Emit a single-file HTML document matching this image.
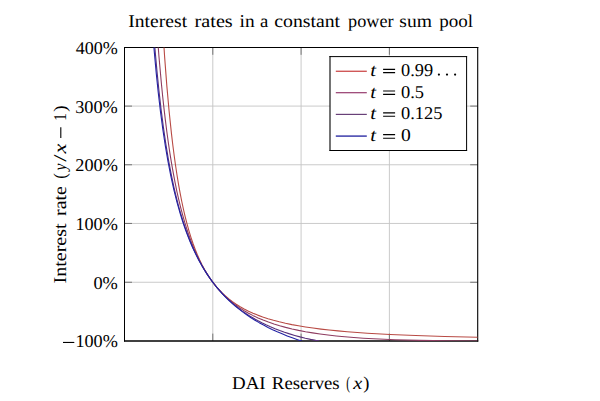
<!DOCTYPE html>
<html><head><meta charset="utf-8">
<style>
html,body{margin:0;padding:0;background:#fff;}
body{width:600px;height:401px;overflow:hidden;}
svg{display:block;}
text{font-family:"Liberation Serif",serif;font-size:18px;fill:#000;text-rendering:geometricPrecision;}
.it{font-style:italic;}
</style></head>
<body>
<svg width="600" height="401" viewBox="0 0 600 401">
<rect x="0" y="0" width="600" height="401" fill="#fff"/>
<g stroke="#c4c4c4" stroke-width="0.9" fill="none">
<path d="M212.8,47.5V340.9 M301.1,47.5V340.9 M389.4,47.5V340.9"/>
<path d="M124.5,106.1H477.7 M124.5,164.75H477.7 M124.5,223.45H477.7 M124.5,282.25H477.7"/>
</g>
<g stroke="#6a6a6a" stroke-width="0.9" fill="none">
<path d="M212.8,47.5v7.3 M301.1,47.5v7.3 M389.4,47.5v7.3 M212.8,340.9v-7.3 M301.1,340.9v-7.3 M389.4,340.9v-7.3"/>
<path d="M124.5,106.1h7.5 M124.5,164.75h7.5 M124.5,223.45h7.5 M124.5,282.25h7.5 M477.7,106.1h-7.5 M477.7,164.75h-7.5 M477.7,223.45h-7.5 M477.7,282.25h-7.5"/>
</g>
<g fill="none" stroke="#000"><path d="M124,47.5H478.3" stroke-width="1"/><path d="M124.5,47V341.5" stroke-width="1"/><path d="M477.7,47V341.5" stroke-width="1.1"/><path d="M124,341H478.3" stroke-width="1.3"/></g>
<svg x="124.5" y="47.5" width="353.2" height="293.4" viewBox="124.5 47.5 353.2 293.4" overflow="hidden">
<g fill="none" stroke-width="1.1" stroke-linejoin="round">
<path d="M162.69,27.45 164.68,57.66 166.88,86.38 169.09,110.94 171.52,134.07 172.84,145.24 174.17,155.53 175.49,165.03 177.04,175.22 178.58,184.55 180.13,193.12 181.67,200.99 183.44,209.25 185.21,216.80 186.97,223.71 188.96,230.83 190.95,237.31 192.93,243.24 195.14,249.25 197.35,254.72 199.56,259.71 201.98,264.72 204.41,269.28 207.06,273.81 209.93,278.24 212.80,282.25 215.67,285.89 218.76,289.44 222.07,292.87 225.38,295.98 228.91,298.97 232.45,301.67 236.20,304.26 240.17,306.74 244.15,308.97 248.56,311.21 252.98,313.22 257.61,315.11 262.69,316.98 267.99,318.71 273.51,320.33 279.25,321.83 285.43,323.27 291.83,324.60 298.45,325.82 305.51,326.97 313.02,328.06 320.97,329.08 329.14,330.01 337.97,330.90 347.24,331.72 367.32,333.18 390.06,334.45 415.67,335.54 444.59,336.47 477.70,337.27" stroke="#b84a44"/>
<path d="M156.73,27.69 158.94,56.26 161.37,83.31 162.69,96.45 164.01,108.61 165.34,119.89 166.88,132.04 168.43,143.23 169.97,153.56 171.52,163.12 173.29,173.20 175.05,182.47 176.82,191.03 178.58,198.95 180.57,207.17 182.56,214.73 184.76,222.46 186.97,229.54 189.18,236.06 191.61,242.65 194.04,248.69 196.46,254.25 199.11,259.82 201.76,264.92 204.63,270.00 207.50,274.64 210.59,279.22 213.90,283.69 217.22,287.77 220.75,291.73 224.28,295.34 228.03,298.83 231.78,302.01 235.76,305.07 239.73,307.86 244.15,310.67 248.56,313.21 253.20,315.63 258.05,317.92 263.13,320.07 268.43,322.10 273.95,323.99 279.69,325.75 285.65,327.38 292.05,328.95 298.67,330.38 305.51,331.69 312.58,332.88 320.08,333.99 328.03,335.02 336.20,335.94 344.81,336.77 353.86,337.52 363.35,338.19 373.51,338.79 395.14,339.74 419.42,340.41 446.79,340.80 477.70,340.93" stroke="#8e3c60"/>
<path d="M153.42,29.20 155.18,51.28 156.95,70.92 158.94,90.58 161.14,109.88 163.35,126.94 165.78,143.57 168.43,159.57 171.08,173.70 173.95,187.27 177.04,200.18 178.58,206.07 180.35,212.38 183.66,223.18 185.43,228.44 187.19,233.40 189.18,238.64 191.17,243.56 193.15,248.18 195.14,252.53 197.35,257.08 199.56,261.34 201.76,265.35 204.19,269.49 206.62,273.38 209.05,277.03 211.70,280.76 214.35,284.27 216.99,287.56 219.86,290.90 222.73,294.04 225.82,297.20 228.91,300.16 232.01,302.94 235.32,305.72 238.85,308.50 242.38,311.10 245.91,313.53 249.67,315.94 253.64,318.32 257.61,320.54 261.81,322.72 266.00,324.75 270.42,326.74 275.05,328.68 279.69,330.47 284.54,332.21 289.62,333.88 294.70,335.41 300.00,336.88 305.29,338.20 310.59,339.38 315.67,340.36 319.42,340.93" stroke="#58307a"/>
<path d="M152.54,29.97 154.30,51.88 156.29,73.61 158.27,92.79 160.48,111.61 162.91,129.82 165.34,145.86 167.99,161.32 170.86,176.07 173.95,190.04 177.04,202.37 180.35,214.06 182.12,219.75 184.10,225.74 185.87,230.75 187.86,236.04 189.84,241.02 192.05,246.20 194.26,251.05 196.46,255.61 198.67,259.90 201.10,264.32 203.53,268.48 205.96,272.39 208.61,276.40 211.25,280.16 214.12,283.98 216.99,287.57 219.86,290.94 222.95,294.35 226.04,297.56 229.36,300.78 232.67,303.81 236.20,306.84 239.73,309.68 243.26,312.35 247.02,315.03 250.99,317.68 254.96,320.18 259.16,322.65 263.57,325.10 267.99,327.39 272.62,329.65 277.26,331.77 282.12,333.86 287.19,335.91 292.27,337.84 297.57,339.73 303.09,341.58 308.83,343.39 314.79,345.15 320.75,346.80 333.55,350.04" stroke="#2222a4"/>

</g>
</svg>
<rect x="330" y="56.6" width="136.6" height="93.9" fill="#fff"/>
<g fill="none" stroke="#000"><path d="M329.5,56.6H467.1" stroke-width="1"/><path d="M329.5,150.5H467.1" stroke-width="1"/><path d="M330,56.1V151" stroke-width="1.1"/><path d="M466.6,56.1V151" stroke-width="1"/></g>
<g>
<path d="M335.8,71.25H366.8" stroke="#c83c3c" stroke-width="1.2"/>
<path d="M335.8,92.7H366.8" stroke="#963c6e" stroke-width="1.2"/>
<path d="M335.8,114.4H366.8" stroke="#684078" stroke-width="1.2"/>
<path d="M335.8,136.1H366.8" stroke="#3c3caa" stroke-width="1.5"/>
</g>
<g stroke="#000" stroke-width="1.15">
<path d="M383.1,69.4H395.1M383.1,72.6H395.1"/>
<path d="M383.1,91.0H395.1M383.1,94.4H395.1"/>
<path d="M383.1,112.8H395.1M383.1,116.2H395.1"/>
<path d="M383.1,134.6H395.1M383.1,138.2H395.1"/>
</g>
<text x="370.28" y="75.80" class="it" textLength="5.80" lengthAdjust="spacingAndGlyphs">t</text>
<text x="401.00" y="75.80" textLength="32.05" lengthAdjust="spacingAndGlyphs">0.99</text>
<text x="370.28" y="97.50" class="it" textLength="5.80" lengthAdjust="spacingAndGlyphs">t</text>
<text x="401.00" y="97.50" textLength="23.02" lengthAdjust="spacingAndGlyphs">0.5</text>
<text x="370.28" y="119.30" class="it" textLength="5.80" lengthAdjust="spacingAndGlyphs">t</text>
<text x="401.00" y="119.30" textLength="41.42" lengthAdjust="spacingAndGlyphs">0.125</text>
<text x="370.28" y="141.00" class="it" textLength="5.80" lengthAdjust="spacingAndGlyphs">t</text>
<text x="400.95" y="141.00" textLength="9.79" lengthAdjust="spacingAndGlyphs">0</text>
<g fill="#000"><circle cx="438.9" cy="74.6" r="1.1"/><circle cx="447" cy="74.6" r="1.1"/><circle cx="455.1" cy="74.6" r="1.1"/></g>
<text x="75.75" y="54.20" textLength="42.07" lengthAdjust="spacingAndGlyphs">400%</text>
<text x="75.23" y="112.70" textLength="42.60" lengthAdjust="spacingAndGlyphs">300%</text>
<text x="75.30" y="171.30" textLength="42.52" lengthAdjust="spacingAndGlyphs">200%</text>
<text x="75.40" y="230.10" textLength="42.42" lengthAdjust="spacingAndGlyphs">100%</text>
<text x="93.40" y="289.00" textLength="24.42" lengthAdjust="spacingAndGlyphs">0%</text>
<path d="M63,342.45H74.3" stroke="#000" stroke-width="1.1"/>
<text x="75.40" y="347.20" textLength="42.42" lengthAdjust="spacingAndGlyphs">100%</text>
<text x="128.29" y="27.00" textLength="58.82" lengthAdjust="spacingAndGlyphs">Interest</text>
<text x="194.60" y="27.00" textLength="38.13" lengthAdjust="spacingAndGlyphs">rates</text>
<text x="239.59" y="27.00" textLength="15.10" lengthAdjust="spacingAndGlyphs">in</text>
<text x="259.94" y="27.00" textLength="8.31" lengthAdjust="spacingAndGlyphs">a</text>
<text x="274.25" y="27.00" textLength="65.87" lengthAdjust="spacingAndGlyphs">constant</text>
<text x="348.11" y="27.00" textLength="45.45" lengthAdjust="spacingAndGlyphs">power</text>
<text x="399.30" y="27.00" textLength="32.61" lengthAdjust="spacingAndGlyphs">sum</text>
<text x="439.19" y="27.00" textLength="33.79" lengthAdjust="spacingAndGlyphs">pool</text>
<text x="232.06" y="388.80" textLength="33.61" lengthAdjust="spacingAndGlyphs">DAI</text>
<text x="271.86" y="388.80" textLength="67.82" lengthAdjust="spacingAndGlyphs">Reserves</text>
<text x="346.20" y="388.80" textLength="3.76" lengthAdjust="spacingAndGlyphs">(</text>
<text x="353.15" y="388.80" class="it" textLength="9.00" lengthAdjust="spacingAndGlyphs">x</text>
<text x="363.15" y="388.80" textLength="6.16" lengthAdjust="spacingAndGlyphs">)</text>
<g transform="translate(66,283) rotate(-90)"><text x="-0.52" y="0.00" textLength="60.14" lengthAdjust="spacingAndGlyphs">Interest</text>
<text x="67.10" y="0.00" textLength="29.68" lengthAdjust="spacingAndGlyphs">rate</text>
<text x="104.36" y="0.00" textLength="5.58" lengthAdjust="spacingAndGlyphs">(</text>
<text x="112.51" y="0.00" class="it" textLength="6.98" lengthAdjust="spacingAndGlyphs">y</text>
<text x="121.20" y="0.00" textLength="7.20" lengthAdjust="spacingAndGlyphs">/</text>
<text x="129.47" y="0.00" class="it" textLength="9.89" lengthAdjust="spacingAndGlyphs">x</text>
<text x="162.18" y="0.00" textLength="7.53" lengthAdjust="spacingAndGlyphs">1</text>
<text x="171.19" y="0.00" textLength="6.35" lengthAdjust="spacingAndGlyphs">)</text></g><path d="M60.8,127.2V138.1" stroke="#000" stroke-width="1.1"/>
</svg>
</body></html>
